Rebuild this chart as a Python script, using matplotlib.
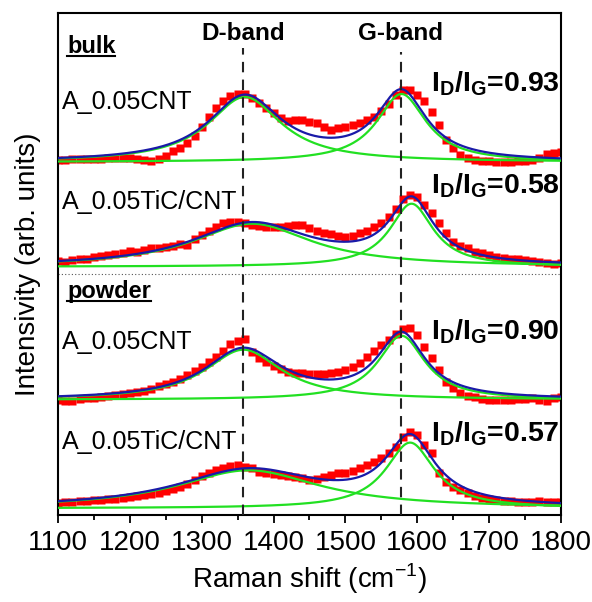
import numpy as np
import matplotlib.pyplot as plt

plt.rcParams['font.family'] = ['Liberation Sans', 'DejaVu Sans']
plt.rcParams['mathtext.fontset'] = 'custom'
plt.rcParams['mathtext.rm'] = 'Liberation Sans'
plt.rcParams['mathtext.bf'] = 'Liberation Sans:bold'

# Raman shift axis of the measured points
shift = np.arange(1100, 1801, 10)

# measured intensities (arb. units, above each spectrum's own baseline)
bulk_cnt = [1, 1.5, 1.7, 2, 2, 2.3, 2.3, 2.7, 3, 3, 3.3, 2, 1, 0.5, 2, 5, 10, 13, 18, 25,
            34, 44, 53, 60, 65, 67, 67, 63, 58, 53, 48, 43, 40, 41, 41, 39, 38, 34, 31, 33,
            34, 36, 38, 41, 44, 50, 57, 66, 71, 71, 66, 60, 49, 36, 21, 13, 6, 3, 1, 0.5,
            0, -0.5, -0.7, -0.5, 0, 0.5, 1, 3, 7, 8, 9]
bulk_tic = [5.7, 5, 6.7, 7.3, 7.7, 9.3, 10.7, 11.7, 12.7, 14, 15.3, 15, 16.7, 18.3, 19, 20,
            20.7, 22.3, 21.7, 27.3, 31.7, 36, 40, 43.3, 45, 44.3, 43.3, 42, 40.7, 39.3, 39.3,
            40, 40.7, 41.7, 41.7, 38.3, 36, 33.3, 32.7, 30.7, 30, 30.7, 33.3, 36, 40, 44, 49.3,
            57.3, 67.3, 71.7, 70, 61.7, 54, 43.3, 33.3, 25, 20.7, 18.3, 15, 13.3, 11.7, 10, 9,
            8, 7.3, 6.7, 5.7, 5, 3.3, 2.7, 4]
powder_cnt = [-1.3, -2, -2.3, -0.7, 0.3, 1, 2, 2.7, 3.3, 4.7, 5.3, 7, 8, 9.3, 12.7, 14.7, 17,
              19.3, 23.7, 28, 32, 37, 42, 48, 54.7, 58, 59.3, 47, 41, 37, 32.7, 30, 27, 26,
              25.3, 24.7, 24.7, 24.7, 26, 27, 28.7, 32, 36, 42, 48, 53.7, 58.7, 64.7, 69.3,
              70.3, 63.7, 52, 40.3, 28.7, 17, 10.3, 5.3, 2.7, 1.3, -0.7, -1.3, -1.7, -1.7,
              -1.3, -0.7, -0.7, 0.3, -1.3, -2, 0.3, 1.3]
powder_tic = [5.7, 6, 6.3, 7, 7.3, 8, 8.3, 9.3, 9.7, 10.7, 11.7, 12.3, 13, 14.3, 15.7, 17, 19,
              21.7, 24.3, 28.3, 32.3, 35.7, 38.3, 40.7, 42.7, 43.3, 41.7, 40, 36.7, 35, 34,
              33.3, 32.7, 31, 30, 28.3, 29, 31.7, 33.3, 35, 35.7, 37.7, 40, 43.3, 46.7, 50, 55,
              61, 71.7, 76.7, 73.3, 63.3, 55, 35, 26.7, 21.7, 18.3, 15, 12.3, 10.7, 9, 8.3,
              7.7, 7, 6.7, 6.3, 6, 7, 6.3, 6, 6]

# Lorentzian fit parameters: centre, FWHM, height
d_center = [1360, 1370, 1358, 1365]
d_fwhm = [124, 202, 130, 244]
d_height = [65, 43, 50, 38]
g_center = [1578, 1592, 1578, 1590]
g_fwhm = [84, 74, 80, 83]
g_height = [68, 63, 64, 65.7]
fit_base = [-1, 0, -1, 0]

spectra = [bulk_cnt, bulk_tic, powder_cnt, powder_tic]
offsets = [354, 248.3, 116.3, 6.7]
sample_names = ['A_0.05CNT', 'A_0.05TiC/CNT', 'A_0.05CNT', 'A_0.05TiC/CNT']
ratios = ['0.93', '0.58', '0.90', '0.57']
band_names = ['D-band', 'G-band']
band_pos = [1358, 1577]


def lorentz(x, c, fwhm, h):
    hw = fwhm / 2
    return h * hw**2 / ((x - c)**2 + hw**2)


fig = plt.figure(figsize=(5.92, 6.02), dpi=100)
ax = fig.add_axes([58 / 592, 87 / 602, 503 / 592, 502 / 602])
ax.set_xlim(1100, 1800)
ax.set_ylim(0, 502)

xf = np.linspace(1100, 1800, 701)
for i, ys in enumerate(spectra):
    off = offsets[i]
    ax.plot(shift, np.array(ys) + off, 's', color='#ff0000', ms=5.2, mec='none', zorder=2)
    ld = lorentz(xf, d_center[i], d_fwhm[i], d_height[i])
    lg = lorentz(xf, g_center[i], g_fwhm[i], g_height[i])
    b = fit_base[i] + off
    ax.plot(xf, ld + b, color='#22e022', lw=1.6, zorder=3)
    ax.plot(xf, lg + b, color='#22e022', lw=1.6, zorder=3)
    ax.plot(xf, ld + lg + b, color='#1a1aa8', lw=1.6, zorder=4)

# band positions
ax.vlines(band_pos[0], 0, 467, colors='#222222', linestyles=(0, (5, 3.5)), lw=1.5, zorder=5)
ax.vlines(band_pos[1], 0, 463, colors='#222222', linestyles=(0, (5, 3.5)), lw=1.5, zorder=5)
for name, xp in zip(band_names, band_pos):
    ax.text(xp, 482, name, ha='center', va='center', fontsize=17.5, fontweight='bold')

# separator bulk / powder
ax.axhline(241, color='#555555', lw=0.8, ls=(0, (1, 2)))

label_y = [413, 313, 173, 73]
ratio_y = [424, 321, 175, 73]
for i in range(4):
    ax.text(1105, label_y[i], sample_names[i], ha='left', va='center', fontsize=18)
    ax.text(1798, ratio_y[i], r'$\mathbf{I_D/I_G}$=' + ratios[i],
            ha='right', va='baseline', fontsize=20.5, fontweight='bold')

# underlined group titles
renderer = fig.canvas.get_renderer()
inv = ax.transData.inverted()
for title, yb in [('bulk', 462.3), ('powder', 216.7)]:
    t = ax.text(1112.5, yb, title, ha='left', va='baseline', fontsize=17, fontweight='bold')
    bb = t.get_window_extent(renderer=renderer)
    x0 = inv.transform((bb.x0, 0))[0]
    x1 = inv.transform((bb.x1, 0))[0]
    ax.plot([x0, x1], [yb - 3, yb - 3], color='black', lw=1.5)

ax.set_xticks(np.arange(1100, 1801, 100))
ax.set_xticks(np.arange(1150, 1800, 100), minor=True)
ax.set_yticks([])
ax.tick_params(axis='x', which='major', direction='out', length=6, width=1.3,
               labelsize=20, pad=5)
ax.tick_params(axis='x', which='minor', direction='out', length=3.5, width=1.3)
for sp in ax.spines.values():
    sp.set_linewidth(1.5)

ax.set_xlabel('Raman shift (cm$^{-1}$)', fontsize=20, labelpad=4)
ax.set_ylabel('Intensivity (arb. units)', fontsize=20, labelpad=12)

fig.savefig('out.png', dpi=100)
